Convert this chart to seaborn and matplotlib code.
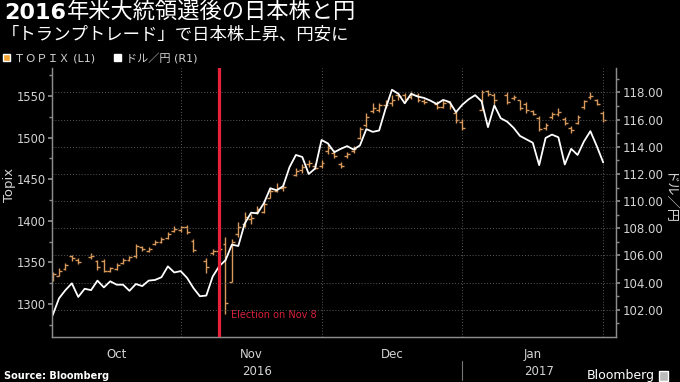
import numpy as np
import pandas as pd
import matplotlib
matplotlib.use("Agg")
import matplotlib.pyplot as plt
import matplotlib.transforms as mtransforms
from matplotlib.patches import Patch, Rectangle
import seaborn as sns

# weekdays from Oct 3 2016 to Jan 31 2017, one slot each on the x axis (Bloomberg style)
days = pd.bdate_range("2016-10-03", "2017-01-31")

# USD/JPY close, one value per weekday
usd_jpy = [
    101.6, 102.85, 103.45, 103.95, 102.95, 103.55, 103.45, 104.15, 103.65, 104.1,
    103.85, 103.85, 103.4, 103.9, 103.75, 104.15, 104.2, 104.4, 105.2, 104.75,
    104.85, 104.35, 103.6, 103.0, 103.05, 104.45, 105.2, 105.65, 106.8, 106.7,
    108.35, 109.15, 109.1, 109.85, 110.95, 110.8, 111.1, 112.5, 113.4, 113.25,
    112.0, 112.4, 114.5, 114.25, 113.6, 113.85, 114.05, 113.8, 114.1, 115.3,
    115.1, 115.2, 116.8, 118.2, 117.9, 117.2, 117.9, 117.7, 117.6, 117.4,
    117.15, 117.45, 117.3, 116.55, 117.1, 117.5, 117.8, 117.35, 115.45, 117.05,
    116.1, 115.85, 115.4, 114.8, 114.55, 114.3, 112.65, 114.65, 114.9, 114.7,
    112.7, 113.85, 113.4, 114.4, 115.15, 114.05, 112.85,
]

# TOPIX daily open / high / low / close, None on Tokyo market holidays
topix_open = [
    1329, 1334, 1342, 1357, 1353, None, 1356, 1352, 1352, 1340,
    1342, 1349, 1353, 1357, 1368, 1364, 1372, 1375, 1379, 1388,
    1389, 1392, 1376, None, 1352, 1361, 1364, 1372, 1326, 1384,
    1396, 1402, 1410, 1411, 1428, 1436, 1440, None, 1455, 1461,
    1468, 1466, 1466, 1484, 1482, 1468, 1478, 1484, 1500, 1515,
    1532, 1533, 1540, 1542, 1551, 1551, 1549, 1552, 1544, None,
    1541, 1537, 1543, 1530, 1519, None, None, 1534, 1556, 1552,
    None, 1552, 1548, 1545, 1541, 1532, 1524, 1512, 1525, 1529,
    1523, 1512, 1518, 1537, 1549, 1546, 1530,
]
topix_high = [
    1338, 1343, 1349, 1359, 1355, None, 1361, 1353, 1354, 1344,
    1349, 1355, 1358, 1372, 1370, 1368, 1377, 1380, 1386, 1394,
    1394, 1395, 1378, None, 1355, 1366, 1369, 1380, 1378, 1399,
    1410, 1408, 1418, 1425, 1440, 1445, 1446, None, 1463, 1468,
    1473, 1470, 1473, 1492, 1485, 1471, 1483, 1490, 1513, 1530,
    1542, 1542, 1545, 1551, 1555, 1554, 1556, 1554, 1547, None,
    1544, 1545, 1544, 1532, 1522, None, None, 1557, 1558, 1554,
    None, 1555, 1551, 1546, 1543, 1534, 1526, 1518, 1531, 1536,
    1525, 1514, 1527, 1546, 1555, 1547, 1532,
]
topix_low = [
    1328, 1333, 1341, 1352, 1348, None, 1354, 1341, 1338, 1338,
    1341, 1348, 1352, 1355, 1364, 1362, 1371, 1373, 1378, 1386,
    1386, 1384, 1362, None, 1337, 1359, 1361, 1288, 1326, 1380,
    1392, 1396, 1408, 1409, 1427, 1435, 1436, None, 1454, 1458,
    1465, 1462, 1464, 1481, 1475, 1463, 1475, 1482, 1499, 1513,
    1530, 1531, 1536, 1538, 1546, 1544, 1547, 1543, 1541, None,
    1535, 1536, 1535, 1518, 1509, None, None, 1533, 1550, 1541,
    None, 1541, 1546, 1533, 1530, 1527, 1508, 1509, 1523, 1526,
    1515, 1506, 1517, 1535, 1547, 1539, 1519,
]
topix_close = [
    1336, 1340, 1347, 1355, 1350, None, 1358, 1344, 1340, 1343,
    1347, 1353, 1356, 1370, 1366, 1366, 1375, 1378, 1384, 1390,
    1392, 1387, 1365, None, 1344, 1364, 1366, 1301, 1374, 1392,
    1405, 1403, 1414, 1420, 1436, 1440, 1441, None, 1460, 1465,
    1470, 1464, 1469, 1488, 1478, 1466, 1480, 1487, 1510, 1525,
    1536, 1539, 1540, 1546, 1550, 1547, 1553, 1546, 1543, None,
    1537, 1542, 1538, 1521, 1512, None, None, 1555, 1553, 1545,
    None, 1543, 1549, 1536, 1533, 1529, 1511, 1515, 1528, 1531,
    1518, 1509, 1525, 1544, 1550, 1541, 1521,
]

election_day = "2016-11-08"
month_names = ["Oct", "Nov", "Dec", "Jan"]
year_names = ["2016", "2017"]
topix_ticks = [1300, 1350, 1400, 1450, 1500, 1550]
usd_ticks = [102, 104, 106, 108, 110, 112, 114, 116, 118]

bar_color = "#d8995a"
red = "#e8213c"
grey_text = "#d4d4d4"
spine_grey = "#8c8c8c"

sns.set_theme(style="dark", rc={
    "figure.facecolor": "black", "axes.facecolor": "black",
    "savefig.facecolor": "black", "text.color": "white",
})
plt.rcParams["font.family"] = ["DejaVu Sans", "Noto Sans CJK JP"]

pos = np.arange(len(days))
topix = pd.DataFrame({"pos": pos, "open": topix_open, "high": topix_high,
                      "low": topix_low, "close": topix_close}).dropna()
usd = pd.DataFrame({"pos": pos, "usd_jpy": usd_jpy})

fig = plt.figure(figsize=(6.8, 3.82), dpi=100)
ax = fig.add_axes([52 / 680, 1 - 337 / 382, 564 / 680, 269 / 382])
ax2 = ax.twinx()

# TOPIX as OHLC bars
ax.vlines(topix["pos"], topix["low"], topix["high"], color=bar_color, lw=1.0)
ax.hlines(topix["open"], topix["pos"] - 0.45, topix["pos"], color=bar_color, lw=1.0)
ax.hlines(topix["close"], topix["pos"], topix["pos"] + 0.45, color=bar_color, lw=1.0)

# USD/JPY line on the right axis
sns.lineplot(data=usd, x="pos", y="usd_jpy", ax=ax2, color="white", linewidth=1.3)

# month ends -> grid lines and tick marks
month_end = usd.groupby(days.to_period("M"))["pos"].max().to_numpy()
xmin, xmax = -0.1, 88.0
ax.set_xlim(xmin, xmax)
ax.set_xticks(month_end)
ax.set_xticklabels([])
bounds = np.concatenate([[xmin], month_end])
ax.set_xticks((bounds[:-1] + bounds[1:]) / 2, minor=True)
ax.set_xticklabels(month_names, minor=True)
ax.tick_params(axis="x", which="major", length=3, color=spine_grey, direction="out")
ax.tick_params(axis="x", which="minor", length=0, pad=8, labelsize=8.5, labelcolor=grey_text)
ax.grid(axis="x", which="major", color="#5a5a5a", linestyle=(0, (1, 2)), linewidth=0.7)
ax.grid(axis="y", visible=False)

ax.set_ylim(1260, 1584)
ax.set_yticks(topix_ticks)
ax.set_yticks(np.arange(1275, 1584, 50), minor=True)
ax.tick_params(axis="y", which="both", direction="out", color=spine_grey,
               labelcolor=grey_text, labelsize=8.3, pad=1.5, left=True)
ax.tick_params(axis="y", which="major", length=3)
ax.tick_params(axis="y", which="minor", length=2)
ax.set_xlabel("")
ax.set_ylabel("")

ax2.set_ylim(100, 119.8)
ax2.set_yticks(usd_ticks)
ax2.set_yticklabels([f"{v:.2f}" for v in usd_ticks])
ax2.set_yticks(np.arange(101, 120, 2), minor=True)
ax2.tick_params(axis="y", which="both", direction="out", color=spine_grey,
                labelcolor=grey_text, labelsize=8.5, pad=2, right=True)
ax2.tick_params(axis="y", which="major", length=3)
ax2.tick_params(axis="y", which="minor", length=2)
ax2.grid(axis="y", which="major", color="#5a5a5a", linestyle=(0, (1, 2)), linewidth=0.7)
ax2.set_xlabel("")
ax2.set_ylabel("")

for a in (ax, ax2):
    for side, sp in a.spines.items():
        sp.set_color(spine_grey)
        sp.set_linewidth(0.9)
        sp.set_visible(side != "top")

# election marker
e_pos = days.get_loc(pd.Timestamp(election_day))
ax2.axvline(e_pos, color=red, lw=2.3, zorder=5)
ax.text(e_pos + 1.8, 1287, "Election on Nov 8", color="#d8203a", fontsize=7,
        va="center", ha="left")

# year row under the months
trans = mtransforms.blended_transform_factory(ax.transData, ax.transAxes)
ax.text((xmin + month_end[2]) / 2, -0.13, year_names[0], transform=trans,
        ha="center", va="center", fontsize=8.5, color=grey_text)
ax.text((month_end[2] + xmax) / 2, -0.13, year_names[1], transform=trans,
        ha="center", va="center", fontsize=8.5, color=grey_text)
ax.plot([month_end[2], month_end[2]], [-0.09, -0.16], transform=trans,
        color="#777777", lw=0.8, clip_on=False)

# axis titles
fig.text(9 / 680, 1 - 185 / 382, "Topix", rotation=90, ha="center", va="center",
         fontsize=9.5, color=grey_text)
fig.text(668 / 680, 1 - 198 / 382, "ドル／円", rotation=270, ha="center", va="center",
         fontsize=9.5, color=grey_text)

# headline
t1 = fig.text(4 / 680, 1 - 19 / 382, "2016", fontsize=16, fontweight="bold",
              color="white", va="baseline")
fig.canvas.draw()
bb = t1.get_window_extent()
fig.text((bb.x1 + 1) / 680, 1 - 19 / 382, "年米大統領選後の日本株と円", fontsize=16,
         color="white", va="baseline")
fig.text(2 / 680, 1 - 35 / 382, "「トランプトレード」で日本株上昇、円安に", fontsize=12.5,
         color="white", va="center")

fig.legend(handles=[Patch(facecolor="#f5a331"), Patch(facecolor="white")],
           labels=["ＴＯＰＩＸ (L1)", "ドル／円 (R1)"],
           loc="center left", bbox_to_anchor=(0.0, 1 - 58 / 382), ncol=2,
           frameon=False, fontsize=8, labelcolor=grey_text,
           handlelength=0.6, handleheight=0.6, handletextpad=0.4,
           columnspacing=1.7, borderaxespad=0, borderpad=0.3)

# footer
fig.text(4 / 680, 1 - 376 / 382, "Source: Bloomberg", fontsize=7, fontweight="bold",
         color="white", va="center")
fig.text(655 / 680, 1 - 376 / 382, "Bloomberg", fontsize=9, color="white",
         va="center", ha="right")
fig.patches.append(Rectangle((659 / 680, 1 - 381 / 382), 9 / 680, 10 / 382,
                             transform=fig.transFigure, facecolor="#bbbbbb"))

fig.savefig("out.png", dpi=100, facecolor="black")
